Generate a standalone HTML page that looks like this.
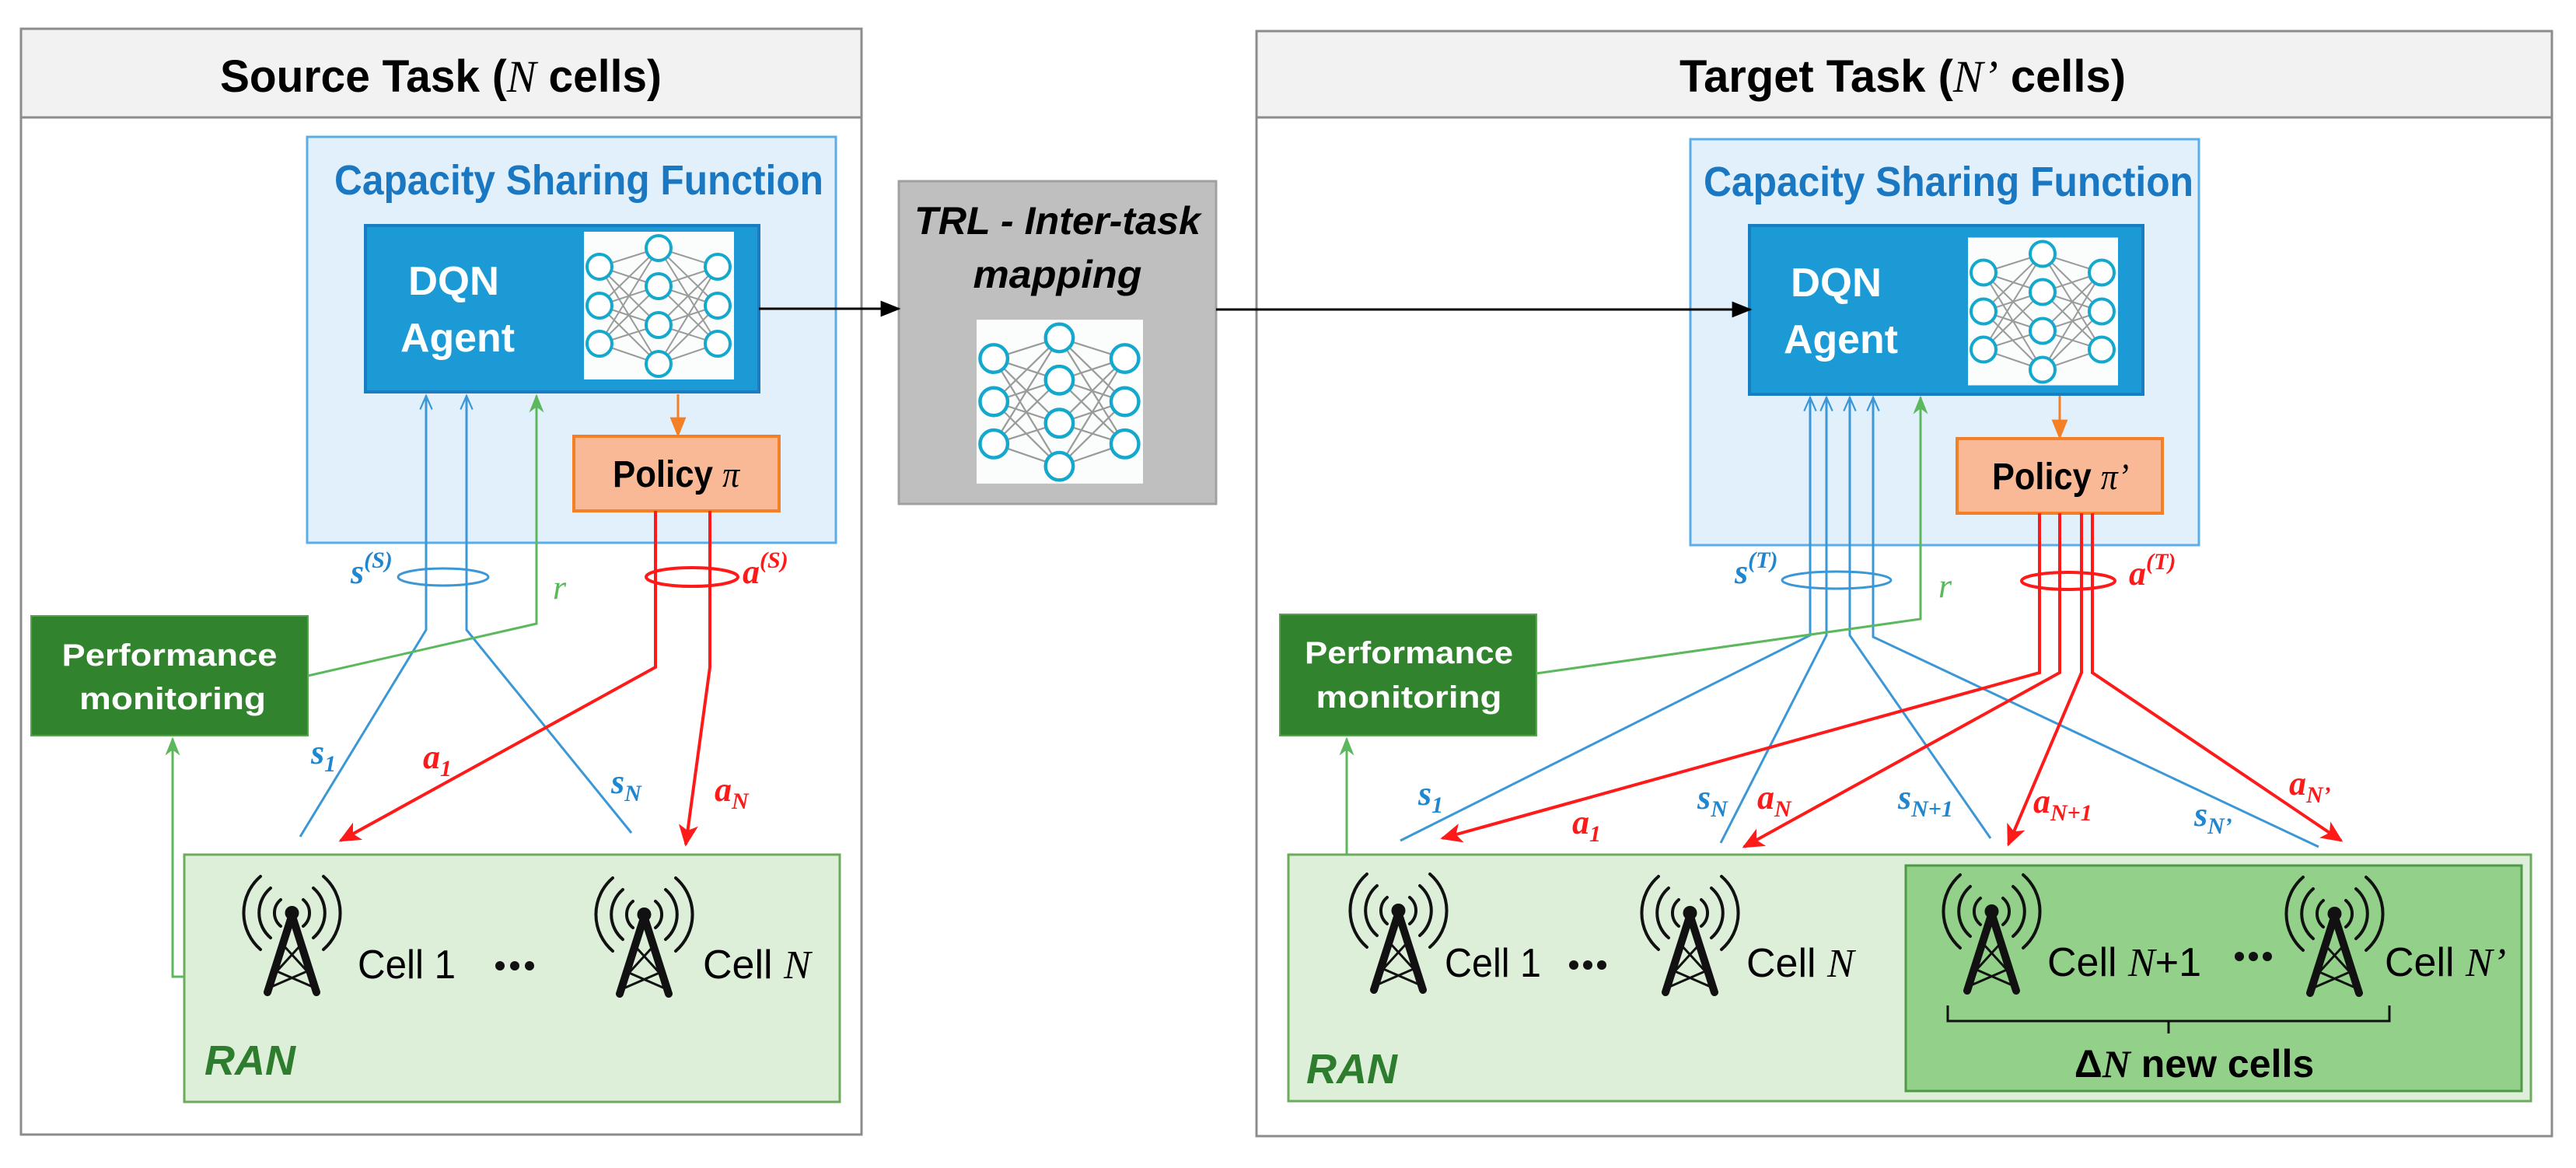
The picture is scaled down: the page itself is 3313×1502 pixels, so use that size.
<!DOCTYPE html>
<html><head><meta charset="utf-8"><style>html,body{margin:0;padding:0;background:#fff}svg{display:block}</style></head><body>
<svg width="3313" height="1502" viewBox="0 0 3313 1502" xmlns="http://www.w3.org/2000/svg" font-family="'Liberation Sans', sans-serif">
<defs>
<marker id="mb" viewBox="0 0 20 20" refX="18" refY="10" markerWidth="22" markerHeight="22" markerUnits="userSpaceOnUse" orient="auto"><path d="M2,3 L18,10 L2,17" fill="none" stroke="#3b97d6" stroke-width="2"/></marker>
<marker id="mg" viewBox="0 0 20 20" refX="18" refY="10" markerWidth="24" markerHeight="24" markerUnits="userSpaceOnUse" orient="auto"><path d="M0,2 L20,10 L0,18 L6,10z" fill="#5cb85c"/></marker>
<marker id="mr" viewBox="0 0 20 20" refX="18" refY="10" markerWidth="28" markerHeight="28" markerUnits="userSpaceOnUse" orient="auto"><path d="M0,1 L20,10 L0,19 L5,10z" fill="#ff1a1a"/></marker>
<marker id="mo" viewBox="0 0 20 20" refX="18" refY="10" markerWidth="26" markerHeight="26" markerUnits="userSpaceOnUse" orient="auto"><path d="M0,2 L20,10 L0,18z" fill="#f57f25"/></marker>
<marker id="mk" viewBox="0 0 20 20" refX="18" refY="10" markerWidth="26" markerHeight="26" markerUnits="userSpaceOnUse" orient="auto"><path d="M0,2 L20,10 L0,18z" fill="#000"/></marker>
<symbol id="nn" viewBox="0 0 193 190">
<rect width="193" height="190" fill="#fbfdfd"/>
<g stroke="#9a9a9a" stroke-width="2">
<path d="M20,45 L96,21 M20,45 L96,70 M20,45 L96,120 M20,45 L96,170 M20,95 L96,21 M20,95 L96,70 M20,95 L96,120 M20,95 L96,170 M20,144 L96,21 M20,144 L96,70 M20,144 L96,120 M20,144 L96,170"/>
<path d="M172,45 L96,21 M172,45 L96,70 M172,45 L96,120 M172,45 L96,170 M172,95 L96,21 M172,95 L96,70 M172,95 L96,120 M172,95 L96,170 M172,144 L96,21 M172,144 L96,70 M172,144 L96,120 M172,144 L96,170"/>
</g>
<g fill="#fff" stroke="#14a8cc" stroke-width="4">
<circle cx="20" cy="45" r="16"/><circle cx="20" cy="95" r="16"/><circle cx="20" cy="144" r="16"/>
<circle cx="96" cy="21" r="16"/><circle cx="96" cy="70" r="16"/><circle cx="96" cy="120" r="16"/><circle cx="96" cy="170" r="16"/>
<circle cx="172" cy="45" r="16"/><circle cx="172" cy="95" r="16"/><circle cx="172" cy="144" r="16"/>
</g>
</symbol>
<symbol id="tw" viewBox="0 0 147 163">
<g fill="none" stroke="#111" stroke-width="4" stroke-linecap="round">
<path d="M59,38 A22,22 0 0 0 59,72"/><path d="M88,38 A22,22 0 0 1 88,72"/>
<path d="M46,23 A42,42 0 0 0 46,87"/><path d="M101,23 A42,42 0 0 1 101,87"/>
<path d="M33,8 A62,62 0 0 0 33,102"/><path d="M114,8 A62,62 0 0 1 114,102"/>
</g>
<g stroke="#111" stroke-linecap="round" fill="none">
<path d="M73.5,58 L42,157 M73.5,58 L105,157" stroke-width="10"/>
<path d="M62,96 L93,130 M85,96 L54,130 M54,130 L100,150 M93,130 L47,150" stroke-width="3"/>
</g>
<circle cx="73.5" cy="55" r="9" fill="#111"/>
</symbol>
</defs>

<rect x="27" y="37" width="1081" height="1422" fill="#fff" stroke="#8c8c8c" stroke-width="3"/>
<rect x="27" y="37" width="1081" height="114" fill="#f2f2f2" stroke="#8c8c8c" stroke-width="3"/>
<text x="567" y="118" font-size="58" font-weight="bold" text-anchor="middle" textLength="568" lengthAdjust="spacingAndGlyphs">Source Task (<tspan font-family="'Liberation Serif', serif" font-style="italic" font-weight="normal">N</tspan> cells)</text>

<rect x="1616" y="40" width="1666" height="1421" fill="#fff" stroke="#8c8c8c" stroke-width="3"/>
<rect x="1616" y="40" width="1666" height="111" fill="#f2f2f2" stroke="#8c8c8c" stroke-width="3"/>
<text x="2447" y="118" font-size="58" font-weight="bold" text-anchor="middle" textLength="574" lengthAdjust="spacingAndGlyphs">Target Task (<tspan font-family="'Liberation Serif', serif" font-style="italic" font-weight="normal">N’</tspan> cells)</text>

<rect x="395" y="176" width="680" height="522" fill="#e2f0fc" stroke="#5aaee8" stroke-width="3"/>
<text x="430" y="250" font-size="54" font-weight="bold" fill="#1a78c2" textLength="629" lengthAdjust="spacingAndGlyphs">Capacity Sharing Function</text>
<rect x="470" y="290" width="506" height="214" fill="#1b9ad6" stroke="#1a7cc1" stroke-width="4"/>
<use href="#nn" x="751" y="298" width="193" height="190"/>
<text x="525" y="379" font-size="52" font-weight="bold" fill="#fff" textLength="117" lengthAdjust="spacingAndGlyphs">DQN</text>
<text x="515" y="452" font-size="52" font-weight="bold" fill="#fff" textLength="147" lengthAdjust="spacingAndGlyphs">Agent</text>
<line x1="872" y1="507" x2="872" y2="560" stroke="#f57f25" stroke-width="3" marker-end="url(#mo)"/>
<rect x="738" y="561" width="264" height="96" fill="#f9b996" stroke="#f57f25" stroke-width="4"/>
<text x="788" y="626" font-size="48" font-weight="bold" textLength="163" lengthAdjust="spacingAndGlyphs">Policy <tspan font-family="'Liberation Serif', serif" font-style="italic" font-weight="normal">π</tspan></text>

<rect x="1156" y="233" width="408" height="415" fill="#bfbfbf" stroke="#a0a0a0" stroke-width="3"/>
<text x="1360" y="301" font-size="50" font-weight="bold" font-style="italic" text-anchor="middle" textLength="368" lengthAdjust="spacingAndGlyphs">TRL - Inter-task</text>
<text x="1360" y="370" font-size="50" font-weight="bold" font-style="italic" text-anchor="middle" textLength="217" lengthAdjust="spacingAndGlyphs">mapping</text>
<use href="#nn" x="1256" y="409" width="214" height="215"/>

<rect x="2174" y="179" width="654" height="522" fill="#e2f0fc" stroke="#5aaee8" stroke-width="3"/>
<text x="2191" y="252" font-size="54" font-weight="bold" fill="#1a78c2" textLength="630" lengthAdjust="spacingAndGlyphs">Capacity Sharing Function</text>
<rect x="2250" y="290" width="506" height="217" fill="#1b9ad6" stroke="#1a7cc1" stroke-width="4"/>
<use href="#nn" x="2531" y="304" width="193" height="193"/>
<text x="2303" y="381" font-size="52" font-weight="bold" fill="#fff" textLength="117" lengthAdjust="spacingAndGlyphs">DQN</text>
<text x="2294" y="454" font-size="52" font-weight="bold" fill="#fff" textLength="147" lengthAdjust="spacingAndGlyphs">Agent</text>
<line x1="2649" y1="509" x2="2649" y2="563" stroke="#f57f25" stroke-width="3" marker-end="url(#mo)"/>
<rect x="2517" y="564" width="264" height="96" fill="#f9b996" stroke="#f57f25" stroke-width="4"/>
<text x="2562" y="629" font-size="48" font-weight="bold" textLength="176" lengthAdjust="spacingAndGlyphs">Policy <tspan font-family="'Liberation Serif', serif" font-style="italic" font-weight="normal">π’</tspan></text>

<line x1="976" y1="397" x2="1156" y2="397" stroke="#000" stroke-width="3" marker-end="url(#mk)"/>
<line x1="1564" y1="398" x2="2251" y2="398" stroke="#000" stroke-width="3" marker-end="url(#mk)"/>

<rect x="40" y="792" width="356" height="154" fill="#31832d" stroke="#5aa34e" stroke-width="2"/>
<text x="218" y="856" font-size="40" font-weight="bold" fill="#fff" text-anchor="middle" textLength="277" lengthAdjust="spacingAndGlyphs">Performance</text>
<text x="222" y="912" font-size="40" font-weight="bold" fill="#fff" text-anchor="middle" textLength="240" lengthAdjust="spacingAndGlyphs">monitoring</text>
<rect x="1646" y="790" width="330" height="156" fill="#31832d" stroke="#5aa34e" stroke-width="2"/>
<text x="1812" y="853" font-size="40" font-weight="bold" fill="#fff" text-anchor="middle" textLength="268" lengthAdjust="spacingAndGlyphs">Performance</text>
<text x="1812" y="910" font-size="40" font-weight="bold" fill="#fff" text-anchor="middle" textLength="239" lengthAdjust="spacingAndGlyphs">monitoring</text>

<rect x="237" y="1099" width="843" height="318" fill="#ddefd9" stroke="#6aab5c" stroke-width="3"/>
<rect x="1657" y="1099" width="1598" height="317" fill="#ddefd9" stroke="#6aab5c" stroke-width="3"/>
<rect x="2451" y="1113" width="792" height="290" fill="#93d18a" stroke="#4e9a46" stroke-width="3"/>
<text x="263" y="1382" font-size="54" font-weight="bold" font-style="italic" fill="#2e7d2e">RAN</text>
<text x="1680" y="1393" font-size="54" font-weight="bold" font-style="italic" fill="#2e7d2e">RAN</text>

<use href="#tw" x="302" y="1119" width="147" height="163"/>
<use href="#tw" x="755" y="1121" width="147" height="163"/>
<use href="#tw" x="1725" y="1116" width="147" height="163"/>
<use href="#tw" x="2100" y="1119" width="147" height="163"/>
<use href="#tw" x="2488" y="1117" width="147" height="163"/>
<use href="#tw" x="2929" y="1120" width="147" height="163"/>

<g font-size="52">
<text x="460" y="1258" textLength="126" lengthAdjust="spacingAndGlyphs">Cell 1</text>
<text x="904" y="1258">Cell <tspan font-family="'Liberation Serif', serif" font-style="italic">N</tspan></text>
<text x="1858" y="1256" textLength="124" lengthAdjust="spacingAndGlyphs">Cell 1</text>
<text x="2246" y="1256">Cell <tspan font-family="'Liberation Serif', serif" font-style="italic">N</tspan></text>
<text x="2633" y="1255">Cell <tspan font-family="'Liberation Serif', serif" font-style="italic">N</tspan>+1</text>
<text x="3067" y="1255">Cell <tspan font-family="'Liberation Serif', serif" font-style="italic">N’</tspan></text>
</g>
<g fill="#111">
<circle cx="643" cy="1242" r="6"/><circle cx="662" cy="1242" r="6"/><circle cx="681" cy="1242" r="6"/>
<circle cx="2024" cy="1241" r="6"/><circle cx="2042" cy="1241" r="6"/><circle cx="2060" cy="1241" r="6"/>
<circle cx="2880" cy="1230" r="6"/><circle cx="2898" cy="1230" r="6"/><circle cx="2916" cy="1230" r="6"/>
</g>
<path d="M2505,1293 L2505,1313 L2789,1313 L2789,1329 M2789,1313 L3073,1313 L3073,1293" fill="none" stroke="#111" stroke-width="3"/>
<text x="2822" y="1385" font-size="50" font-weight="bold" text-anchor="middle">Δ<tspan font-family="'Liberation Serif', serif" font-style="italic">N</tspan> new cells</text>

<g fill="none" stroke="#3b97d6" stroke-width="3">
<polyline points="386,1076 548,810 548,509" marker-end="url(#mb)"/>
<polyline points="812,1071 600,810 600,509" marker-end="url(#mb)"/>
<ellipse cx="570" cy="742" rx="58" ry="11"/>
</g>
<g fill="none" stroke="#5cb85c" stroke-width="3">
<polyline points="396,869 690,802 690,509" marker-end="url(#mg)"/>
<polyline points="237,1256 222,1256 222,950" marker-end="url(#mg)"/>
</g>
<g fill="none" stroke="#ff1a1a" stroke-width="4">
<polyline points="843,657 843,858 438,1081" marker-end="url(#mr)"/>
<polyline points="913,657 913,858 882,1086" marker-end="url(#mr)"/>
<ellipse cx="890" cy="742" rx="59" ry="12"/>
</g>

<g fill="none" stroke="#3b97d6" stroke-width="3">
<polyline points="1801,1081 2328,817 2328,511" marker-end="url(#mb)"/>
<polyline points="2213,1084 2349,817 2349,511" marker-end="url(#mb)"/>
<polyline points="2560,1078 2379,817 2379,511" marker-end="url(#mb)"/>
<polyline points="2982,1089 2409,819 2409,511" marker-end="url(#mb)"/>
<ellipse cx="2362" cy="746" rx="70" ry="11"/>
</g>
<g fill="none" stroke="#5cb85c" stroke-width="3">
<polyline points="1976,866 2470,796 2470,511" marker-end="url(#mg)"/>
<line x1="1732" y1="1098" x2="1732" y2="950" marker-end="url(#mg)"/>
</g>
<g fill="none" stroke="#ff1a1a" stroke-width="4">
<polyline points="2623,660 2623,865 1855,1078" marker-end="url(#mr)"/>
<polyline points="2649,660 2649,865 2243,1089" marker-end="url(#mr)"/>
<polyline points="2677,660 2677,865 2583,1086" marker-end="url(#mr)"/>
<polyline points="2691,660 2691,865 3011,1081" marker-end="url(#mr)"/>
<ellipse cx="2660" cy="747" rx="60" ry="11"/>
</g>

<g font-family="'Liberation Serif', serif" font-style="italic" font-weight="bold" font-size="44">
<g fill="#1f86cf">
<text x="451" y="750">s<tspan font-size="30" dy="-20">(S)</tspan></text>
<text x="400" y="982">s<tspan font-size="30" dy="10">1</tspan></text>
<text x="786" y="1020">s<tspan font-size="30" dy="10">N</tspan></text>
<text x="2231" y="750">s<tspan font-size="30" dy="-20">(T)</tspan></text>
<text x="1824" y="1035">s<tspan font-size="30" dy="10">1</tspan></text>
<text x="2183" y="1040">s<tspan font-size="30" dy="10">N</tspan></text>
<text x="2441" y="1040">s<tspan font-size="30" dy="10">N+1</tspan></text>
<text x="2822" y="1062">s<tspan font-size="30" dy="10">N’</tspan></text>
</g>
<g fill="#5cb85c" font-weight="normal">
<text x="711" y="770">r</text>
<text x="2493" y="768">r</text>
</g>
<g fill="#ff1a1a">
<text x="955" y="750">a<tspan font-size="30" dy="-20">(S)</tspan></text>
<text x="544" y="988">a<tspan font-size="30" dy="10">1</tspan></text>
<text x="919" y="1030">a<tspan font-size="30" dy="10">N</tspan></text>
<text x="2738" y="752">a<tspan font-size="30" dy="-20">(T)</tspan></text>
<text x="2022" y="1072">a<tspan font-size="30" dy="10">1</tspan></text>
<text x="2260" y="1040">a<tspan font-size="30" dy="10">N</tspan></text>
<text x="2615" y="1045">a<tspan font-size="30" dy="10">N+1</tspan></text>
<text x="2944" y="1022">a<tspan font-size="30" dy="10">N’</tspan></text>
</g>
</g>
</svg>
</body></html>
